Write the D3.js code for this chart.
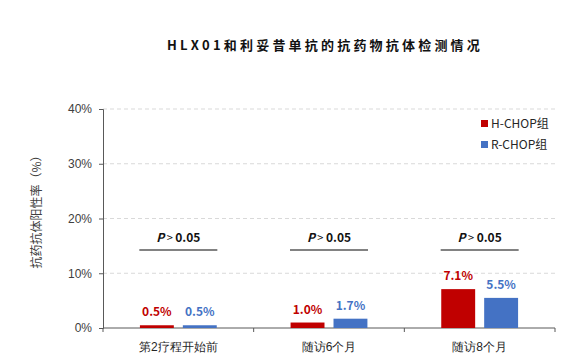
<!DOCTYPE html>
<html><head><meta charset="utf-8">
<script src="https://cdnjs.cloudflare.com/ajax/libs/d3/7.8.5/d3.min.js"></script>
<style>body{margin:0;background:#fff}svg{display:block;font-family:"Microsoft YaHei","Noto Sans CJK SC","Noto Sans",sans-serif}</style>
</head><body><svg id="c" width="579" height="357"></svg>
<script>
const categories = ["第2疗程开始前", "随访6个月", "随访8个月"];
const seriesNames = ["H-CHOP组", "R-CHOP组"];
const hchop = [0.5, 1.0, 7.1];
const rchop = [0.5, 1.7, 5.5];
const yTicks = [0, 10, 20, 30, 40];
const pLabels = ["0.05", "0.05", "0.05"];
const colors = ["#C00000", "#4472C4"];

const svg = d3.select("#c");
const m = {l:103, r:555, t:109, b:328};
const x = d3.scaleBand().domain(categories).range([m.l, m.r]);
const xs = d3.scaleBand().domain(seriesNames).range([0, x.bandwidth()]).paddingInner(0.21).paddingOuter(0.86);
const y = d3.scaleLinear().domain([0, 40]).range([m.b, m.t]);

svg.append("text").attr("x", 325).attr("y", 50).attr("text-anchor", "middle")
  .attr("font-size", 13).attr("font-weight", "bold").attr("letter-spacing", 3.2).attr("fill", "#111")
  .text("HLX01和利妥昔单抗的抗药物抗体检测情况");

svg.append("g").selectAll("line").data(yTicks.filter(d => d > 0)).join("line")
  .attr("x1", m.l).attr("x2", m.r).attr("y1", d => y(d)).attr("y2", d => y(d))
  .attr("stroke", "#d9d9d9").attr("stroke-dasharray", "4,3");

const ya = svg.append("g").attr("transform", `translate(${m.l},0)`)
  .call(d3.axisLeft(y).tickValues(yTicks).tickFormat(d => d + "%").tickSize(4).tickPadding(7));
ya.select(".domain").attr("stroke", "#595959");
ya.selectAll(".tick line").attr("stroke", "#595959");
ya.selectAll("text").attr("font-size", 12).attr("fill", "#404040").attr("font-family", "inherit");

const xa = svg.append("g").attr("transform", `translate(0,${m.b})`)
  .call(d3.axisBottom(x).tickSize(0).tickPadding(14));
xa.select(".domain").remove();
xa.selectAll("text").attr("font-size", 12).attr("fill", "#262626").attr("font-family", "inherit");
const bounds = [m.l].concat(categories.map(c => x(c) + x.bandwidth()));
svg.append("line").attr("x1", m.l).attr("x2", m.r).attr("y1", m.b).attr("y2", m.b).attr("stroke", "#595959");
svg.append("g").selectAll("line").data(bounds).join("line")
  .attr("x1", d => d).attr("x2", d => d).attr("y1", m.b).attr("y2", m.b + 4).attr("stroke", "#595959");

const series = [hchop, rchop];
series.forEach((vals, si) => {
  const g = svg.append("g");
  g.selectAll("rect").data(vals).join("rect")
    .attr("x", (d, i) => x(categories[i]) + xs(seriesNames[si]))
    .attr("width", xs.bandwidth())
    .attr("y", d => y(d)).attr("height", d => y(0) - y(d))
    .attr("fill", colors[si]);
  g.selectAll("text").data(vals).join("text")
    .attr("x", (d, i) => x(categories[i]) + xs(seriesNames[si]) + xs.bandwidth() / 2)
    .attr("y", d => y(d) - 9)
    .attr("text-anchor", "middle").attr("font-size", 12).attr("font-weight", "bold")
    .attr("fill", colors[si]).text(d => d.toFixed(1) + "%");
});

pLabels.forEach((p, i) => {
  const cx = x(categories[i]) + x.bandwidth() / 2;
  const t = svg.append("text").attr("x", cx).attr("y", 242).attr("text-anchor", "middle")
    .attr("font-size", 12).attr("fill", "#111");
  t.append("tspan").attr("font-style", "italic").attr("font-weight", "bold").text("P");
  t.append("tspan").attr("font-size", 11).text(" > ");
  t.append("tspan").attr("font-weight", "bold").text(p);
  svg.append("line").attr("x1", cx - 39).attr("x2", cx + 39).attr("y1", 250).attr("y2", 250)
    .attr("stroke", "#595959").attr("stroke-width", 1.5);
});

seriesNames.forEach((s, i) => {
  const ly = 124 + i * 21;
  svg.append("rect").attr("x", 481).attr("y", ly - 4).attr("width", 7).attr("height", 7).attr("fill", colors[i]);
  svg.append("text").attr("x", 491).attr("y", ly + 4).attr("font-size", 12).attr("fill", "#262626").text(s);
});

svg.append("text").attr("transform", "translate(41,209) rotate(-90)").attr("text-anchor", "middle")
  .attr("font-size", 12).attr("fill", "#404040").text("抗药抗体阳性率（%）");
</script></body></html>
